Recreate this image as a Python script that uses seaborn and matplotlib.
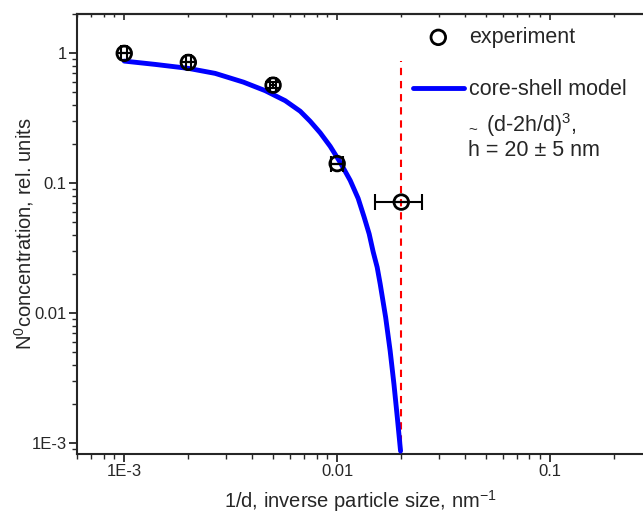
import numpy as np
import pandas as pd
import matplotlib
matplotlib.use("Agg")
import matplotlib.pyplot as plt
import matplotlib.ticker as mticker
import seaborn as sns

# experiment points
exp_x = [1.0e-3, 2.0e-3, 5.0e-3, 1.0e-2, 2.0e-2]
exp_y = [1.0, 0.852, 0.569, 0.1415, 0.0715]
exp_xerr = [3e-5, 6e-5, 1.5e-4, 6e-4, 5e-3]
exp_yerr = [0.0, 0.0, 0.03, 0.0, 0.0]

# core-shell model curve
model_x = [1.0e-3, 1.398e-3, 2.003e-3, 2.674e-3, 3.632e-3, 4.592e-3, 5.700e-3, 6.703e-3,
           7.465e-3, 8.319e-3, 9.270e-3, 1.0330e-2, 1.151e-2, 1.2546e-2, 1.3387e-2,
           1.4131e-2, 1.4757e-2, 1.5411e-2, 1.5920e-2, 1.6890e-2, 1.7731e-2,
           1.8476e-2, 1.9165e-2, 1.9844e-2]
model_y = [0.872, 0.822, 0.766, 0.701, 0.600, 0.516, 0.432, 0.3584,
           0.300, 0.2445, 0.1924, 0.1447, 0.1051, 0.0763, 0.0547,
           0.0407, 0.0296, 0.0225, 0.01675, 0.00925, 0.00511,
           0.00283, 0.00156, 0.000864]

# critical size line
crit_x = 0.02
crit_top = 0.872

x_ticks = [1e-3, 1e-2, 1e-1]
x_labels = ["1E-3", "0.01", "0.1"]
y_ticks = [1e-3, 1e-2, 1e-1, 1]
y_labels = ["1E-3", "0.01", "0.1", "1"]

sns.set_style("ticks")
plt.rcParams["font.family"] = ["Liberation Sans", "DejaVu Sans"]
plt.rcParams["mathtext.default"] = "regular"

fig = plt.figure(figsize=(6.43, 5.15), dpi=100)
ax = fig.add_axes([77 / 643, 1 - 454 / 515, 566 / 643, 440 / 515])

df_model = pd.DataFrame({"x": model_x, "y": model_y})
sns.lineplot(data=df_model, x="x", y="y", ax=ax, color="#0000ff", linewidth=3.5,
             label="core-shell model", zorder=3, sort=False)

ax.vlines(crit_x, 5e-4, crit_top, colors="#ff0000", linestyles=(0, (3.5, 2.8)),
          linewidth=1.5, zorder=2)

ax.errorbar(exp_x, exp_y, xerr=exp_xerr, yerr=exp_yerr, fmt="none", ecolor="black",
            elinewidth=1.5, capsize=6, capthick=1.5, zorder=4)
sns.scatterplot(x=exp_x, y=exp_y, ax=ax, marker="o", s=110, facecolors="none",
                edgecolor="black", linewidth=2.0, label="experiment", zorder=5)

ax.set_xscale("log")
ax.set_yscale("log")
ax.set_xlim(6.0e-4, 0.273)
ax.set_ylim(8.2e-4, 2.01)

ax.xaxis.set_major_locator(mticker.FixedLocator(x_ticks))
ax.xaxis.set_major_formatter(mticker.FixedFormatter(x_labels))
ax.yaxis.set_major_locator(mticker.FixedLocator(y_ticks))
ax.yaxis.set_major_formatter(mticker.FixedFormatter(y_labels))
ax.xaxis.set_minor_locator(mticker.LogLocator(base=10, subs=np.arange(2, 10), numticks=20))
ax.yaxis.set_minor_locator(mticker.LogLocator(base=10, subs=np.arange(2, 10), numticks=20))
ax.xaxis.set_minor_formatter(mticker.NullFormatter())
ax.yaxis.set_minor_formatter(mticker.NullFormatter())

ax.tick_params(axis="both", which="major", direction="out", length=6, width=1.3,
               labelsize=12, pad=1.5)
ax.tick_params(axis="both", which="minor", direction="out", length=3.5, width=1.0)

for s in ["left", "bottom", "top"]:
    ax.spines[s].set_linewidth(1.5)
ax.spines["right"].set_visible(False)

# top axis ticks pointing inward
top = ax.twiny()
top.set_xscale("log")
top.set_xlim(ax.get_xlim())
top.xaxis.set_major_locator(mticker.FixedLocator(x_ticks))
top.xaxis.set_minor_locator(mticker.LogLocator(base=10, subs=np.arange(2, 10), numticks=20))
top.xaxis.set_major_formatter(mticker.NullFormatter())
top.xaxis.set_minor_formatter(mticker.NullFormatter())
top.tick_params(axis="x", which="major", direction="in", length=4, width=1.2)
top.tick_params(axis="x", which="minor", direction="in", length=2.5, width=1.0)
for s in ["left", "bottom", "right"]:
    top.spines[s].set_visible(False)
top.spines["top"].set_linewidth(1.5)

ax.set_xlabel("1/d, inverse particle size, nm$^{-1}$", fontsize=14.5, labelpad=6.5)
ax.set_ylabel("N$^{0}$concentration, rel. units", fontsize=14.5, labelpad=-3.5)

handles, labels = ax.get_legend_handles_labels()
order = [labels.index("experiment"), labels.index("core-shell model")]
ax.legend([handles[i] for i in order], [labels[i] for i in order],
          loc="upper left", bbox_to_anchor=((413 - 77) / 566, 1 - (27 - 14) / 440),
          frameon=False, fontsize=15.5, handlelength=2.35, handletextpad=0.25,
          labelspacing=1.45, borderpad=0, borderaxespad=0)

ax.text((468 - 77) / 566, 1 - (130 - 14) / 440, "~", transform=ax.transAxes,
        fontsize=11, va="center", ha="left")
ax.text((486 - 77) / 566, 1 - (125 - 14) / 440, "(d-2h/d)$^{3}$,",
        transform=ax.transAxes, fontsize=15.5, va="center", ha="left")
ax.text((468 - 77) / 566, 1 - (150 - 14) / 440, "h = 20 \u00b1 5 nm",
        transform=ax.transAxes, fontsize=15.5, va="center", ha="left")

fig.savefig("out.png", dpi=100)
